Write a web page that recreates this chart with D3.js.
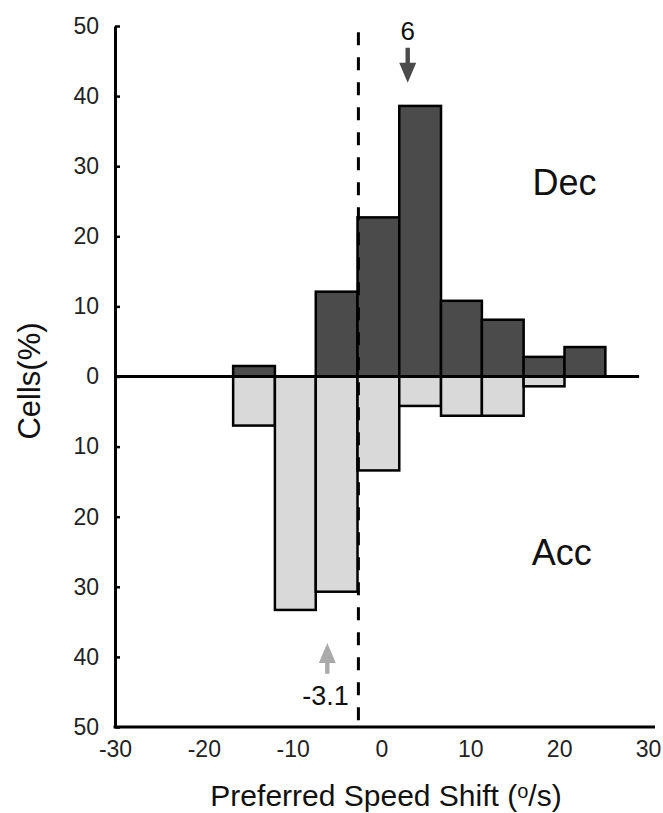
<!DOCTYPE html>
<html>
<head>
<meta charset="utf-8">
<script src="https://cdn.jsdelivr.net/npm/d3@7"></script>
<style>
  body { margin: 0; background: #fff; }
  svg { display: block; font-family: "Liberation Sans", Arial, sans-serif; }
</style>
</head>
<body>
<svg id="chart"></svg>
<script>
// bin edges of the histogram (deg/s)
var binEdges = [-16.7, -12.0, -7.4, -2.7, 2.0, 6.7, 11.3, 16.0, 20.6, 25.2];
// % of cells, decelerating (up) and accelerating (down)
var decValues = [1.5, 0, 12.1, 22.7, 38.6, 10.8, 8.1, 2.8, 4.2];
var accValues = [7.0, 33.3, 30.7, 13.4, 4.2, 5.6, 5.6, 1.4, 0];
var xTicks = [-30, -20, -10, 0, 10, 20, 30];
var yTicks = [-50, -40, -30, -20, -10, 0, 10, 20, 30, 40, 50];
// annotations (data units)
var dashX = -2.6;
var decArrow = { x: 2.95, y0: 46.9, y1: 41.9, label: "6", ly: 48.0 };
var accArrow = { x: -6.1, y0: -42.4, y1: -38.0, label: "-3.1", lx: -6.3, ly: -46.9 };
var groupLabels = [{ text: "Dec", x: 20.6, y: 25.9 }, { text: "Acc", x: 20.3, y: -26.9 }];

var W = 663, H = 813;
var svg = d3.select("#chart").attr("width", W).attr("height", H);

var x = d3.scaleLinear().domain([-30, 30]).range([115, 648]);
var y = d3.scaleLinear().domain([-50, 50]).range([727, 26]);

var bins = decValues.map(function (d, i) {
  return { x0: binEdges[i], x1: binEdges[i + 1], dec: d, acc: accValues[i] };
});

// acc bars (below zero)
svg.append("g").selectAll("rect")
  .data(bins.filter(function (d) { return d.acc > 0; }))
  .enter().append("rect")
  .attr("x", function (d) { return x(d.x0); })
  .attr("width", function (d) { return x(d.x1) - x(d.x0); })
  .attr("y", y(0))
  .attr("height", function (d) { return y(-d.acc) - y(0); })
  .attr("fill", "#d9d9d9")
  .attr("stroke", "#000")
  .attr("stroke-width", 2.5);

// dec bars (above zero)
svg.append("g").selectAll("rect")
  .data(bins.filter(function (d) { return d.dec > 0; }))
  .enter().append("rect")
  .attr("x", function (d) { return x(d.x0); })
  .attr("width", function (d) { return x(d.x1) - x(d.x0); })
  .attr("y", function (d) { return y(d.dec); })
  .attr("height", function (d) { return y(0) - y(d.dec); })
  .attr("fill", "#4b4b4b")
  .attr("stroke", "#000")
  .attr("stroke-width", 2.5);

// zero line
svg.append("line")
  .attr("x1", x(-30)).attr("x2", x(29))
  .attr("y1", y(0)).attr("y2", y(0))
  .attr("stroke", "#000").attr("stroke-width", 3);

// dashed median line
svg.append("line")
  .attr("x1", x(dashX)).attr("x2", x(dashX))
  .attr("y1", y(49.1)).attr("y2", y(-50))
  .attr("stroke", "#000").attr("stroke-width", 3)
  .attr("stroke-dasharray", "13,12");

var plain = function (d) { return String(d); };

// y axis
var yAxis = svg.append("g")
  .attr("transform", "translate(" + x(-30) + ",0)")
  .call(d3.axisLeft(y).tickValues(yTicks).tickFormat(function (d) { return String(Math.abs(d)); })
    .tickSizeInner(-5).tickSizeOuter(0).tickPadding(16));
yAxis.select(".domain").attr("stroke-width", 3);
yAxis.selectAll(".tick line").attr("stroke-width", 2.5);
yAxis.selectAll("text").attr("font-size", 23).attr("fill", "#222").style("font-family", "Liberation Sans, Arial, sans-serif");

// x axis
var xAxis = svg.append("g")
  .attr("transform", "translate(0," + y(-50) + ")")
  .call(d3.axisBottom(x).tickValues(xTicks).tickFormat(plain).tickSize(0).tickPadding(14));
xAxis.select(".domain").remove();
xAxis.selectAll("text").attr("font-size", 23).attr("fill", "#222").style("font-family", "Liberation Sans, Arial, sans-serif");
svg.append("line")
  .attr("x1", x(-30) - 1.5).attr("x2", x(30) + 7)
  .attr("y1", y(-50)).attr("y2", y(-50))
  .attr("stroke", "#000").attr("stroke-width", 3);

// arrows
function arrow(a, color) {
  var dir = a.y1 < a.y0 ? 1 : -1; // 1 = pointing down on screen
  var cx = x(a.x), ys = y(a.y0), yt = y(a.y1);
  var headLen = 20, headW = 8.5, shaftW = 2.2;
  var yh = yt - dir * headLen;
  var pts = [[cx - shaftW, ys], [cx + shaftW, ys], [cx + shaftW, yh], [cx + headW, yh],
    [cx, yt], [cx - headW, yh], [cx - shaftW, yh]];
  svg.append("path").attr("d", d3.line()(pts) + "Z").attr("fill", color);
}
arrow(decArrow, "#4b4b4b");
arrow(accArrow, "#aaaaaa");

svg.append("text").attr("x", x(decArrow.x)).attr("y", y(decArrow.ly))
  .attr("text-anchor", "middle").attr("font-size", 26).attr("fill", "#111").text(decArrow.label);
svg.append("text").attr("x", x(accArrow.lx)).attr("y", y(accArrow.ly))
  .attr("text-anchor", "middle").attr("font-size", 27).attr("fill", "#111").text(accArrow.label);

svg.selectAll(".grp").data(groupLabels).enter().append("text")
  .attr("class", "grp")
  .attr("x", function (d) { return x(d.x); })
  .attr("y", function (d) { return y(d.y); })
  .attr("text-anchor", "middle").attr("font-size", 36).attr("fill", "#111")
  .text(function (d) { return d.text; });

// axis titles
var xt = svg.append("text").attr("x", 386).attr("y", 806)
  .attr("text-anchor", "middle").attr("font-size", 30).attr("fill", "#111");
xt.append("tspan").text("Preferred Speed Shift (");
xt.append("tspan").attr("font-size", 20).attr("dy", -8).text("o");
xt.append("tspan").attr("dy", 8).text("/s)");

svg.append("text")
  .attr("transform", "translate(40,381) rotate(-90)")
  .attr("text-anchor", "middle").attr("font-size", 31).attr("fill", "#111")
  .text("Cells(%)");
</script>
</body>
</html>
